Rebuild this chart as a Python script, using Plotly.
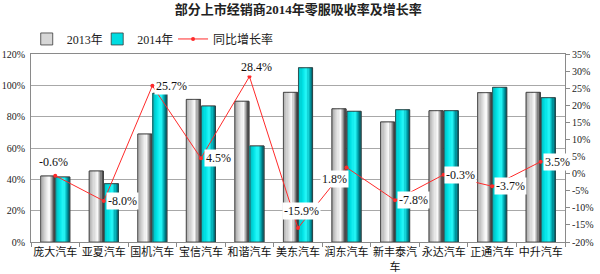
import plotly.graph_objects as go

categories = ["庞大汽车", "亚夏汽车", "国机汽车", "宝信汽车", "和谐汽车", "美东汽车",
              "润东汽车", "新丰泰汽车", "永达汽车", "正通汽车", "中升汽车"]
tick_text = ["庞大汽车", "亚夏汽车", "国机汽车", "宝信汽车", "和谐汽车", "美东汽车",
             "润东汽车", "新丰泰汽<br>车", "永达汽车", "正通汽车", "中升汽车"]
rate_2013 = [42.1, 45.3, 68.9, 91.0, 89.8, 95.5, 85.0, 76.6, 83.8, 95.3, 95.5]
rate_2014 = [41.5, 37.2, 94.9, 86.8, 61.3, 111.2, 83.4, 84.4, 83.8, 98.7, 92.1]
growth = [-0.6, -8.0, 25.7, 4.5, 28.4, -15.9, 1.8, -7.8, -0.3, -3.7, 3.5]
left_ticks = [0, 20, 40, 60, 80, 100, 120]
right_ticks = [-20, -15, -10, -5, 0, 5, 10, 15, 20, 25, 30, 35]

TXT = "Liberation Serif, Noto Sans CJK SC, serif"
BAR_W = 0.29
N_STRIPS = 12


def interp(stops, t):
    for (t0, c0), (t1, c1) in zip(stops, stops[1:]):
        if t0 <= t <= t1:
            f = (t - t0) / (t1 - t0) if t1 > t0 else 0
            c = [round(a + (b - a) * f) for a, b in zip(c0, c1)]
            return "rgb(%d,%d,%d)" % tuple(c)
    return "rgb(%d,%d,%d)" % tuple(stops[-1][1])


grad_2013 = [(0.0, (165, 165, 165)), (0.3, (210, 210, 210)), (0.62, (250, 250, 250)),
             (0.82, (160, 160, 160)), (1.0, (60, 60, 60))]
grad_2014 = [(0.0, (0, 185, 190)), (0.3, (0, 225, 228)), (0.6, (40, 250, 250)),
             (0.82, (0, 170, 178)), (1.0, (0, 95, 105))]

fig = go.Figure()

series = [("2013年", rate_2013, -0.30, grad_2013, "rgb(215,215,215)", "legend"),
          ("2014年", rate_2014, 0.01, grad_2014, "rgb(0,220,225)", "legend2")]

for name, vals, off, grad, mid, lg in series:
    fig.add_trace(go.Bar(x=categories, y=vals, name=name, offset=off, width=BAR_W,
                         marker=dict(color=mid, line=dict(color="#3a3a3a", width=0.8)),
                         hoverinfo="skip", showlegend=True, legend=lg))
    sw = BAR_W / N_STRIPS
    for i in range(N_STRIPS):
        t = (i + 0.5) / N_STRIPS
        fig.add_trace(go.Bar(x=categories, y=vals, offset=off + i * sw, width=sw * 1.05,
                             marker=dict(color=interp(grad, t), line=dict(width=0)),
                             hoverinfo="skip", showlegend=False))
    fig.add_trace(go.Bar(x=categories, y=vals, offset=off, width=BAR_W,
                         marker=dict(color="rgba(0,0,0,0)", line=dict(color="#3a3a3a", width=0.8)),
                         hoverinfo="skip", showlegend=False))

fig.add_trace(go.Scatter(x=categories, y=growth, name="同比增长率", yaxis="y2",
                         mode="lines+markers", legend="legend3",
                         line=dict(color="#ff2a2a", width=1),
                         marker=dict(color="#ff2a2a", size=4)))

# label placements (xanchor, xshift, yshift)
label_pos = [("center", -2, 14), ("left", 2, 0), ("left", 2, 0), ("left", 3, 0),
             ("center", 7, 10), ("center", 3, 17), ("right", 2, -12), ("left", 2, 0),
             ("left", 0, 0), ("left", 2, 0), ("left", 2, 0)]
for c, g, (xa, xs, ys) in zip(categories, growth, label_pos):
    fig.add_annotation(x=c, y=g, xref="x", yref="y2", text="%.1f%%" % g,
                       showarrow=False, xanchor=xa, yanchor="middle", xshift=xs, yshift=ys,
                       bgcolor="white", borderpad=1,
                       font=dict(family=TXT, size=12, color="#111"))

leg_common = dict(orientation="h", y=1.08, yanchor="middle",
                  font=dict(family=TXT, size=12, color="#222"),
                  bgcolor="rgba(0,0,0,0)", itemwidth=30)

fig.update_layout(
    width=600, height=274,
    margin=dict(l=31, r=35, t=54, b=32),
    paper_bgcolor="white", plot_bgcolor="white",
    barmode="overlay",
    title=dict(text="<b>部分上市经销商2014年零服吸收率及增长率</b>",
               x=0.497, xanchor="center", y=0.967, yanchor="middle",
               font=dict(family=TXT, size=13, color="#222")),
    legend=dict(x=-0.008, xanchor="left", **leg_common),
    legend2=dict(x=0.124, xanchor="left", **leg_common),
    legend3=dict(x=0.266, xanchor="left", **leg_common),
    xaxis=dict(type="category", categoryorder="array", categoryarray=categories,
               tickmode="array", tickvals=categories, ticktext=tick_text,
               tickangle=0, automargin=False,
               tickfont=dict(family=TXT, size=11, color="#111"),
               showline=True, linecolor="#8a8a8a", linewidth=1, mirror=True,
               ticks="outside", tickson="boundaries", ticklen=4, tickcolor="#8a8a8a",
               showgrid=False, range=[-0.5, 10.5]),
    yaxis=dict(range=[0, 120], tickvals=left_ticks, automargin=False,
               ticktext=["%d%%" % v for v in left_ticks],
               tickfont=dict(family=TXT, size=10, color="#222"),
               showgrid=True, gridcolor="#a8a8a8", gridwidth=1,
               showline=True, linecolor="#8a8a8a", linewidth=1, zeroline=False,
               ticks="", ticklabelstandoff=3),
    yaxis2=dict(range=[-20, 35], tickvals=right_ticks, automargin=False,
                ticktext=["%d%%" % v for v in right_ticks],
                overlaying="y", side="right",
                tickfont=dict(family=TXT, size=10, color="#222"),
                showgrid=False, zeroline=False,
                showline=True, linecolor="#8a8a8a", linewidth=1,
                ticks="outside", ticklen=4, tickcolor="#8a8a8a"),
)

fig.write_html("out.html")
